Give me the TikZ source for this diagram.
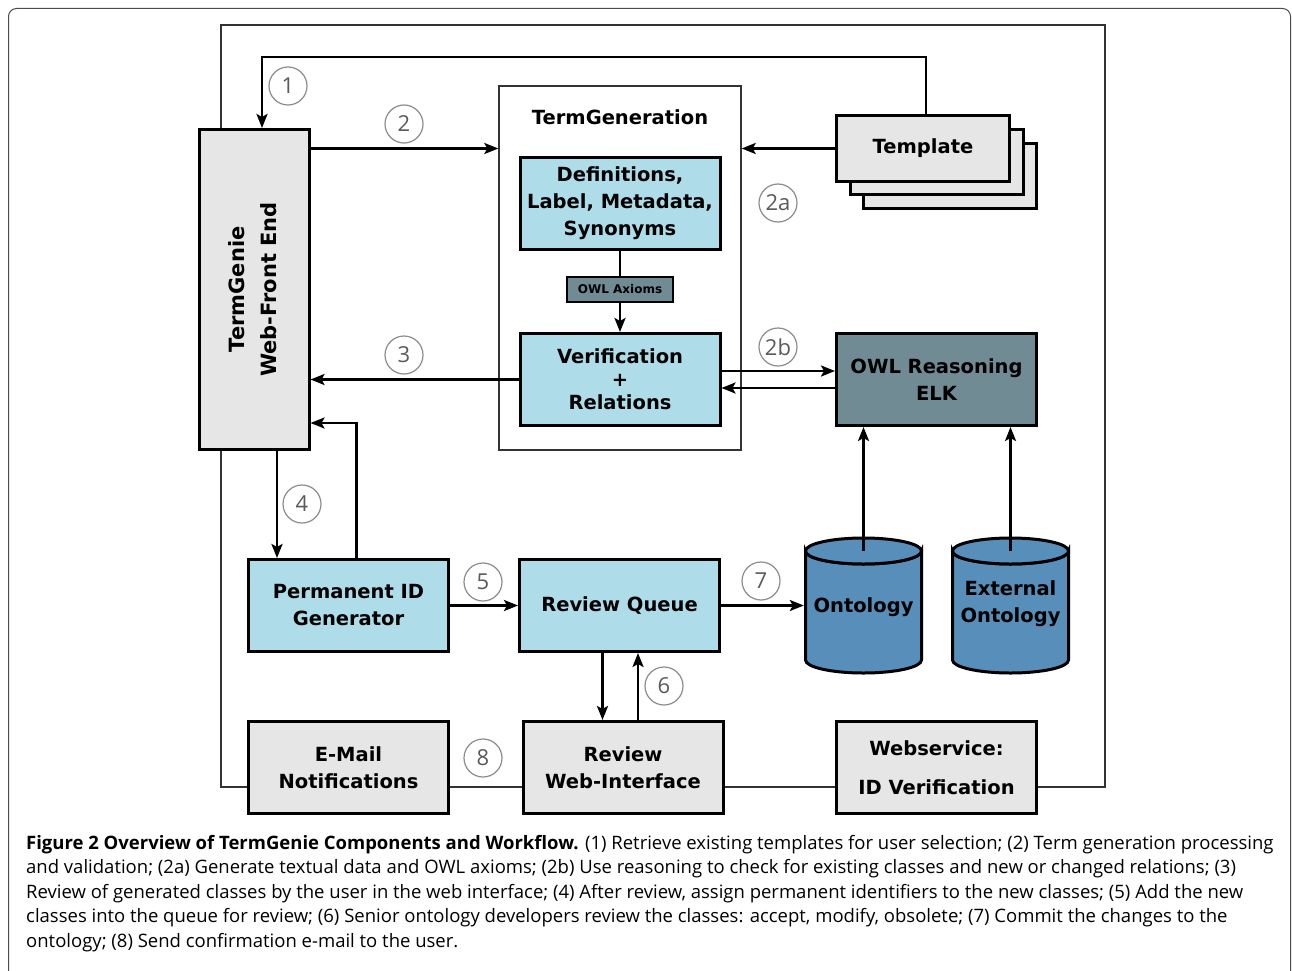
\documentclass[tikz,border=0pt]{standalone}
\usepackage{fontspec}
\setmainfont{DejaVu Sans}
\newfontfamily\capfont{Open Sans}
\usetikzlibrary{arrows.meta}
\definecolor{lblue}{HTML}{AEDDE9}
\definecolor{slate}{HTML}{708B93}
\definecolor{ontblue}{HTML}{588FBA}
\definecolor{lgray}{HTML}{E6E6E6}
\definecolor{numgray}{HTML}{5A5A5A}
\definecolor{circgray}{HTML}{8C8C8C}
\definecolor{busgray}{HTML}{333333}
\begin{document}
\begin{tikzpicture}[x=1pt,y=-1pt,
  box/.style={draw=black, line width=3pt, fill=lblue, minimum width=200pt, minimum height=92pt,
    inner sep=0pt, align=center, font=\bfseries\fontsize{19.5}{27}\selectfont},
  graybox/.style={box, fill=lgray},
  slatebox/.style={box, fill=slate},
  arr/.style={line width=2.5pt, -{Stealth[length=14pt,width=11pt,inset=3pt]}},
  plain/.style={line width=2.5pt},
  num/.style={circle, draw=circgray, line width=1.2pt, minimum size=38pt, inner sep=0pt,
    text=numgray, font=\capfont\fontsize{22}{22}\selectfont},
  capline/.style={anchor=base west, inner sep=0pt, font=\capfont\fontsize{18.5}{18.5}\selectfont},
  cyl/.style={draw=black, line width=3pt, fill=ontblue}
]
\useasboundingbox (0,0) rectangle (1292,971);
\fill[white] (0,0) rectangle (1292,971);
\begin{scope}
\clip (0,0) rectangle (1292,971);
\draw[gray!60!black, line width=1pt, rounded corners=8pt] (8.5,8.5) rectangle (1290.5,1020);
\end{scope}

% bus line
\draw[busgray, line width=1.5pt] (221,25) rectangle (1105,787);

% TermGeneration container
\node[draw=gray!40!black, line width=1.4pt, fill=white, minimum width=242pt, minimum height=364pt, inner sep=0pt] (tg) at (620,268) {};
\node[font=\bfseries\fontsize{19.5}{19.5}\selectfont] (tgt) at (620,117) {TermGeneration};

% boxes
\node[graybox, minimum width=110pt, minimum height=320pt] (fe) at (254,289.5)
  {\rotatebox{90}{\fontsize{21}{32}\selectfont\begin{tabular}{@{}c@{}}TermGenie\\Web-Front End\end{tabular}}};
\node[box] (def) at (620,203) {Definitions,\\Label, Metadata,\\Synonyms};
\node[slatebox, line width=2pt, minimum width=106pt, minimum height=25pt, font=\bfseries\fontsize{12}{12}\selectfont] (ax) at (620,289) {OWL Axioms};
\node[box, font=\bfseries\fontsize{19.5}{23}\selectfont] (ver) at (620,379.5) {Verification\\+\\Relations};

\node[graybox, minimum width=173pt, minimum height=65pt] (tpl3) at (950,176) {};
\node[graybox, minimum width=173pt, minimum height=65pt] (tpl2) at (936.5,162) {};
\node[graybox, minimum width=173pt, minimum height=65pt] (tpl) at (923,148.5) {Template};

\node[slatebox] (owl) at (936.5,379.5) {OWL Reasoning\\ELK};

\node[box] (pid) at (348.5,605.5) {Permanent ID\\Generator};
\node[box] (rq) at (619.5,605.5) {Review Queue};
\node[graybox] (mail) at (348.5,767.5) {E-Mail\\Notifications};
\node[graybox] (rw) at (623,767.5) {Review\\Web-Interface};
\node[graybox] (ws) at (936.5,767.5) {Webservice:\\[12pt]ID Verification};

% cylinders
\foreach \cx in {863.5, 1010.5}{
  \draw[cyl] (\cx-58,551) -- (\cx-58,660) arc[start angle=180, end angle=360, x radius=58, y radius=-13]
    -- (\cx+58,551) arc[start angle=0, end angle=-180, x radius=58, y radius=-13] -- cycle;
  \draw[cyl] (\cx,551) ellipse[x radius=58, y radius=13];
}
\node[minimum width=119pt, minimum height=109pt, inner sep=0pt, font=\bfseries\fontsize{19.5}{27}\selectfont] (ont) at (863.5,607) {Ontology};
\node[minimum width=119pt, minimum height=109pt, inner sep=0pt, align=center, font=\bfseries\fontsize{19.5}{27}\selectfont] (ext) at (1010.5,604) {External\\Ontology};
\coordinate (onttop) at (863.5,551);
\coordinate (exttop) at (1010.5,551);

% connectors
\coordinate (k1) at (262,57);
\draw[arr] ([xshift=3pt]tpl.north) |- (k1) -- (k1 |- fe.north);
\draw[arr] (fe.east |- tpl.west) -- (tg.west |- tpl.west);
\draw[arr] (tpl.west) -- (tg.east |- tpl.west);
\draw[plain] (def.south) -- (ax.north);
\draw[arr] (ax.south) -- (ver.north);
\draw[arr] (ver.west) -- (fe.east |- ver.west);
\draw[arr] ([yshift=8.5pt]ver.east) -- ([yshift=8.5pt]owl.west);
\draw[arr] ([yshift=-8.5pt]owl.west) -- ([yshift=-8.5pt]ver.east);
\draw[arr] (onttop) -- (onttop |- owl.south);
\draw[arr] (exttop) -- (exttop |- owl.south);
\draw[arr] ([xshift=23pt]fe.south) -- ([xshift=23pt]fe.south |- pid.north);
\coordinate (k4) at (311,423);
\draw[arr] ([xshift=8pt]pid.north) |- (fe.east |- k4);
\draw[arr] (pid.east) -- (rq.west);
\draw[arr] (rq.east) -- (rq.east -| ont.west);
\draw[arr] ([xshift=-17pt]rq.south) -- ([xshift=-17pt]rq.south |- rw.north);
\draw[arr] ([xshift=18.5pt]rq.south |- rw.north) -- ([xshift=18.5pt]rq.south);

% step numbers
\node[num] (n1) at (288,86) {1};
\node[num] (n2) at (404,124) {2};
\node[num] (n2a) at (778,203) {2a};
\node[num] (n2b) at (778,347) {2b};
\node[num] (n3) at (404,355) {3};
\node[num] (n4) at (302,504) {4};
\node[num] (n5) at (483,582) {5};
\node[num] (n6) at (664,686) {6};
\node[num] (n7) at (761,581) {7};
\node[num] (n8) at (483,758) {8};

% caption
\node[capline] (c1) at (26,849) {\textbf{Figure 2 Overview of TermGenie Components and Workflow.} (1) Retrieve existing templates for user selection; (2) Term generation processing};
\node[capline] (c2) at (26,873.5) {and validation; (2a) Generate textual data and OWL axioms; (2b) Use reasoning to check for existing classes and new or changed relations; (3)};
\node[capline] (c3) at (26,898) {Review of generated classes by the user in the web interface; (4) After review, assign permanent identifiers to the new classes; (5) Add the new};
\node[capline] (c4) at (26,922.5) {classes into the queue for review; (6) Senior ontology developers review the classes: accept, modify, obsolete; (7) Commit the changes to the};
\node[capline] (c5) at (26,947) {ontology; (8) Send confirmation e-mail to the user.};
\end{tikzpicture}
\end{document}
